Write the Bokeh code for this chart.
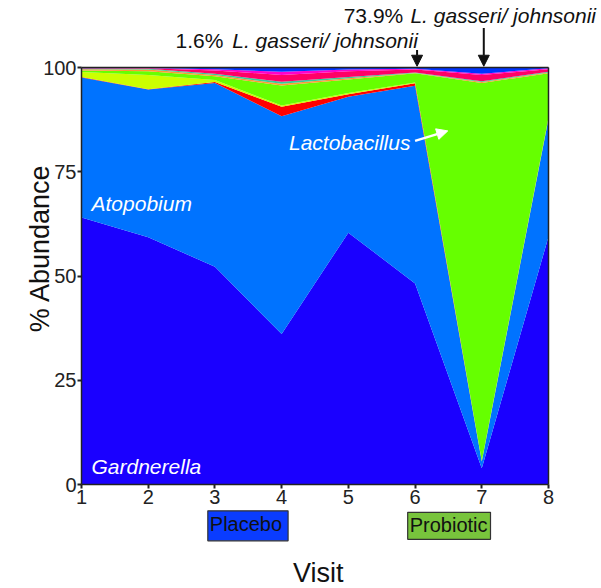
from bokeh.plotting import figure
from bokeh.models import (ColumnDataSource, Label, Arrow, NormalHead, FixedTicker,
                          Range1d, LinearAxis)
from bokeh.embed import file_html
from bokeh.resources import INLINE

# ---- data (percent abundance per visit) ----
visits = [1, 2, 3, 4, 5, 6, 7, 8]
gardnerella = [64.0, 59.3, 52.2, 36.1, 60.4, 48.2, 3.9, 59.4]
atopobium = [33.6, 35.4, 44.1, 52.2, 32.6, 47.4, 1.6, 28.3]
red_taxon = [0.1, 0.1, 0.2, 2.3, 0.6, 0.6, 0.1, 0.1]
yellow_taxon = [1.2, 3.4, 0.5, 0.3, 0.3, 0.2, 0.1, 0.2]
lactobacillus = [0.4, 0.9, 0.9, 4.8, 3.2, 2.2, 90.6, 10.6]
orange_taxon = [0.3, 0.4, 0.3, 0.4, 0.3, 0.1, 0.2, 0.2]
teal_taxon = [0.1, 0.2, 0.3, 0.5, 0.3, 0.1, 0.2, 0.2]
pink_taxon = [0.1, 0.1, 0.8, 1.6, 1.4, 0.7, 1.5, 0.6]
magenta_taxon = [0.05, 0.1, 0.3, 0.8, 0.4, 0.2, 0.3, 0.2]
blue_taxon = [0.15, 0.1, 0.4, 1.0, 0.5, 0.3, 1.5, 0.2]

y_ticks = [0, 25, 50, 75, 100]

layer_names = ["gardnerella", "atopobium", "red_taxon", "yellow_taxon", "lactobacillus",
               "orange_taxon", "teal_taxon", "pink_taxon", "magenta_taxon", "blue_taxon"]
layer_colors = ["#1a00ff", "#0073ff", "#ff0000", "#ccff00", "#66ff00",
                "#ff9933", "#33cc99", "#ff0066", "#ff00cc", "#0033ff"]

FONT = "Liberation Sans"
W, H = 601, 588
LEFT, RIGHT = 81, 548       # pixel columns of visit 1 and visit 8
TOP, BOTTOM = 67, 484       # pixel rows of 100 % and 0 %
PX_X = (RIGHT - LEFT) / 7.0
PX_Y = (BOTTOM - TOP) / 100.0
x0 = 1 - LEFT / PX_X
x1 = x0 + W / PX_X
y1 = 100 + TOP / PX_Y
y0 = y1 - H / PX_Y

src = ColumnDataSource(dict(
    visit=visits, gardnerella=gardnerella, atopobium=atopobium, red_taxon=red_taxon,
    yellow_taxon=yellow_taxon, lactobacillus=lactobacillus, orange_taxon=orange_taxon,
    teal_taxon=teal_taxon, pink_taxon=pink_taxon, magenta_taxon=magenta_taxon,
    blue_taxon=blue_taxon))

p = figure(width=W, height=H, x_range=Range1d(x0, x1), y_range=Range1d(y0, y1),
           output_backend="svg", toolbar_location=None, min_border=0)
p.xgrid.visible = False
p.ygrid.visible = False
p.outline_line_color = None

p.varea_stack(stackers=layer_names, x="visit", color=layer_colors, source=src)

# axes pinned to the chart's own box
p.xaxis.fixed_location = 0
p.yaxis.fixed_location = 1
p.xaxis.bounds = (1, 8)
p.yaxis.bounds = (0, 100)
p.xaxis.ticker = FixedTicker(ticks=visits)
p.yaxis.ticker = FixedTicker(ticks=y_ticks)
for ax in (p.xaxis, p.yaxis):
    ax.axis_line_color = "#222222"
    ax.axis_line_width = 1.5
    ax.major_tick_line_color = "#222222"
    ax.major_tick_line_width = 2
    ax.major_tick_out = 4
    ax.major_tick_in = 0
    ax.minor_tick_line_color = None
    ax.major_label_text_font = FONT
    ax.major_label_text_font_size = "20px"
    ax.major_label_text_color = "#222222"
    ax.major_label_standoff = 1

# top and right edges of the box
top_ax = LinearAxis(fixed_location=100, bounds=(1, 8), ticker=FixedTicker(ticks=[]),
                    axis_line_color="#222222", axis_line_width=1.5,
                    major_tick_line_color=None, minor_tick_line_color=None,
                    major_label_text_font_size="0px")
right_ax = LinearAxis(fixed_location=8, bounds=(0, 100), ticker=FixedTicker(ticks=[]),
                      axis_line_color="#222222", axis_line_width=1.5,
                      major_tick_line_color=None, minor_tick_line_color=None,
                      major_label_text_font_size="0px")
p.add_layout(top_ax, "above")
p.add_layout(right_ax, "right")

# axis titles
p.add_layout(Label(x=0.385, y=56.7, text="% Abundance", angle=1.5708, text_font=FONT,
                   text_font_size="27px", text_align="center", text_baseline="middle",
                   text_color="#111111"))
p.add_layout(Label(x=4.55, y=-21.3, text="Visit", text_font=FONT,
                   text_font_size="27px", text_align="center", text_baseline="middle",
                   text_color="#111111"))

# in-plot taxon labels
for xx, yy, t, al in [(1.15, 67.5, "Atopobium", "left"), (1.15, 4.2, "Gardnerella", "left"),
                      (5.93, 82.0, "Lactobacillus", "right")]:
    p.add_layout(Label(x=xx, y=yy, text=t, text_font=FONT,
                       text_font_size="21px", text_font_style="italic",
                       text_color="white", text_align=al, text_baseline="middle"))
p.add_layout(Arrow(end=NormalHead(size=11, fill_color="white", line_color="white"),
                   x_start=6.0, y_start=82.4, x_end=6.49, y_end=84.8,
                   line_color="white", line_width=2.5))

# header annotations
p.add_layout(Label(x=4.93, y=112.5, text="73.9%", text_font=FONT,
                   text_font_size="21px", text_color="#111111", text_baseline="middle"))
p.add_layout(Label(x=5.93, y=112.5, text="L. gasseri/ johnsonii", text_font=FONT,
                   text_font_size="21px", text_font_style="italic", text_color="#111111",
                   text_baseline="middle"))
p.add_layout(Label(x=2.41, y=106.5, text="1.6%", text_font=FONT,
                   text_font_size="21px", text_color="#111111", text_baseline="middle"))
p.add_layout(Label(x=3.26, y=106.5, text="L. gasseri/ johnsonii", text_font=FONT,
                   text_font_size="21px", text_font_style="italic", text_color="#111111",
                   text_baseline="middle"))
p.add_layout(Arrow(end=NormalHead(size=11, fill_color="#111111", line_color="#111111"),
                   x_start=6.03, y_start=104.2, x_end=6.03, y_end=100.3,
                   line_color="#111111", line_width=2))
p.add_layout(Arrow(end=NormalHead(size=11, fill_color="#111111", line_color="#111111"),
                   x_start=7.03, y_start=109.5, x_end=7.03, y_end=100.3,
                   line_color="#111111", line_width=2))

# treatment boxes
p.add_layout(Label(x=3.495, y=-9.9, text="Placebo", text_font=FONT,
                   text_font_size="20px", text_align="center", text_baseline="middle",
                   text_color="#111111", background_fill_color="#0a3cff",
                   border_line_color="#333333", border_line_width=1.2,
                   padding=(2, 6, 2, 6)))
p.add_layout(Label(x=6.51, y=-9.9, text="Probiotic", text_font=FONT,
                   text_font_size="20px", text_align="center", text_baseline="middle",
                   text_color="#111111", background_fill_color="#78c43c",
                   border_line_color="#333333", border_line_width=1.2,
                   padding=(2, 3, 2, 3)))

open("out.html", "w").write(file_html(p, INLINE))
